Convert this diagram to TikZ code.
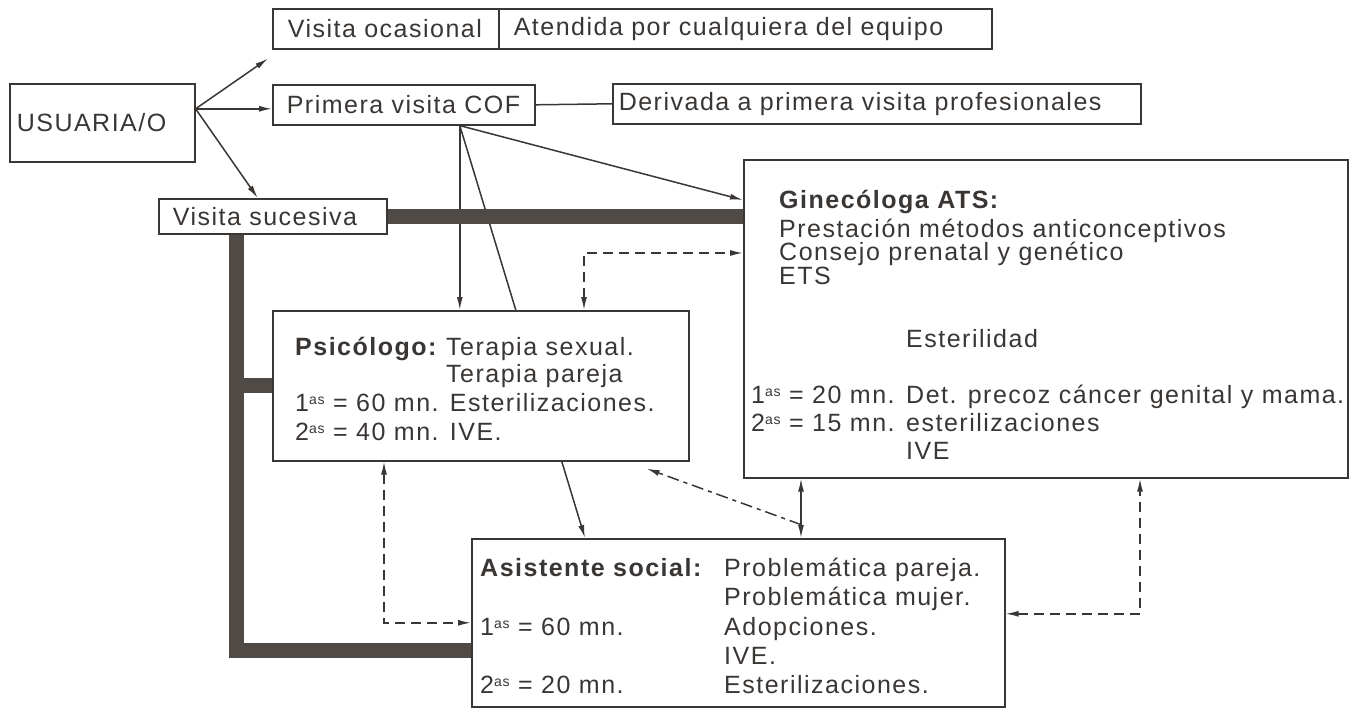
\documentclass[tikz,border=0pt]{standalone}
\usepackage{fontspec}
\setmainfont{Liberation Sans}[LetterSpace=6]
\usetikzlibrary{arrows.meta,backgrounds}
\definecolor{ink}{RGB}{58,54,52}
\definecolor{barcol}{RGB}{80,74,70}
\newcommand{\ord}[1]{#1\raisebox{7pt}{\fontsize{14}{14}\selectfont as}}

\begin{document}
\begin{tikzpicture}[x=1pt,y=-1pt,
  every node/.style={font=\fontsize{25}{29}\selectfont, text=ink},
  box/.style={draw=ink, line width=1.6pt, fill=white, anchor=north west, inner sep=0pt, align=left},
  txt/.style={anchor=base west, inner sep=0pt},
  arr/.style={draw=ink, line width=1.5pt, -{Latex[length=13pt,width=6pt]}},
  dbl/.style={draw=ink, line width=1.5pt, {Latex[length=13pt,width=6pt]}-{Latex[length=13pt,width=6pt]}},
  dsh/.style={dbl, dash pattern=on 10pt off 6pt},
  dshdot/.style={arr, dash pattern=on 12pt off 5pt on 4pt off 5pt},
  bar/.style={draw=barcol, line width=15pt}]

\useasboundingbox (0,0) rectangle (1361,709);

\node[box, text width=185pt, minimum height=78pt] (usuaria) at (9,83) {\hspace*{7pt}USUARIA/O};
\node[box, text width=226pt, minimum height=40pt] (ocasional) at (272,8) {\hspace*{15pt}Visita ocasional};
\node[box, text width=493pt, minimum height=40pt] (atendida) at (498,8) {\hspace*{15pt}Atendida por cualquiera del equipo};
\node[box, text width=262pt, minimum height=40pt] (primera) at (272,84) {\hspace*{14pt}Primera visita COF};
\node[box, text width=528pt, minimum height=40pt] (derivada) at (612,83) {\hspace*{6pt}Derivada a primera visita profesionales};
\node[box, text width=228pt, minimum height=35pt] (sucesiva) at (158,198) {\hspace*{14pt}Visita sucesiva};

\node[box, minimum width=604pt, minimum height=318pt] (gine) at (743,159) {};
\node[box, minimum width=416pt, minimum height=150pt] (psico) at (272,310) {};
\node[box, minimum width=533pt, minimum height=168pt] (asist) at (471,538) {};

\node[txt] (psi1) at (295,355) {\textbf{Psicólogo:}};
\node[txt] (psi2) at (446,355) {Terapia sexual.};
\node[txt] (psi3) at (446,382) {Terapia pareja};
\node[txt] (psi4) at (295,411) {\ord{1} = 60 mn. Esterilizaciones.};
\node[txt] (psi5) at (295,440) {\ord{2} = 40 mn. IVE.};

\node[txt] (gin1) at (779,208) {\textbf{Ginecóloga ATS:}};
\node[txt] (gin2) at (779,237) {Prestación métodos anticonceptivos};
\node[txt] (gin3) at (779,260) {Consejo prenatal y genético};
\node[txt] (gin4) at (779,284) {ETS};
\node[txt] (gin5) at (906,347) {Esterilidad};
\node[txt] (gin6) at (751,403) {\ord{1} = 20 mn.};
\node[txt] (gin7) at (906,403) {Det. precoz cáncer genital y mama.};
\node[txt] (gin8) at (751,431) {\ord{2} = 15 mn.};
\node[txt] (gin9) at (906,431) {esterilizaciones};
\node[txt] (gin10) at (906,459) {IVE};

\node[txt] (asi1) at (480,576) {\textbf{Asistente social:}};
\node[txt] (asi2) at (724,576) {Problemática pareja.};
\node[txt] (asi3) at (724,605) {Problemática mujer.};
\node[txt] (asi4) at (480,635) {\ord{1} = 60 mn.};
\node[txt] (asi5) at (724,635) {Adopciones.};
\node[txt] (asi6) at (724,664) {IVE.};
\node[txt] (asi7) at (480,693) {\ord{2} = 20 mn.};
\node[txt] (asi8) at (724,693) {Esterilizaciones.};

\coordinate (uout) at ([yshift=14pt]usuaria.east);
\coordinate (cof) at ([xshift=56pt]primera.south);
\coordinate (suc) at ([xshift=78pt]sucesiva.south west);
\coordinate (gv) at ([xshift=58pt]gine.south west);

\begin{scope}[on background layer]
\draw[arr] (uout) -- ([shift={(-4pt,-9pt)}]ocasional.south west);
\draw[arr] (uout) -- (uout -| primera.west);
\draw[arr] (uout) -- ([xshift=-15pt]sucesiva.north);
\draw[ink, line width=1.5pt] (primera.east) -- (derivada.west);

\draw[arr] (cof) -- (cof |- psico.north);
\draw[arr] (cof) -- ([yshift=-41pt]gine.north west);
\draw[arr] (cof) -- ([xshift=114pt]asist.north west);

\draw[bar] (sucesiva.east) -- (sucesiva.east -| gine.west);
\draw[bar, line join=miter] (suc) |- ([yshift=-28pt]asist.west);
\draw[bar] (psico.west) -- (psico.west -| suc);

\draw[dsh] ([xshift=312pt]psico.north west) |- ([yshift=-94pt]gine.north west);
\draw[dsh] ([xshift=112pt]psico.south west) |- (asist.west);
\draw[dsh] ([yshift=9pt]asist.east) -| ([xshift=397pt]gine.south west);
\draw[dbl] (gv) -- (gv |- asist.north);
\draw[dshdot] ([shift={(58pt,-46pt)}]gine.south west) -- ([shift={(-43pt,-7pt)}]psico.south east);
\end{scope}

\end{tikzpicture}
\end{document}
